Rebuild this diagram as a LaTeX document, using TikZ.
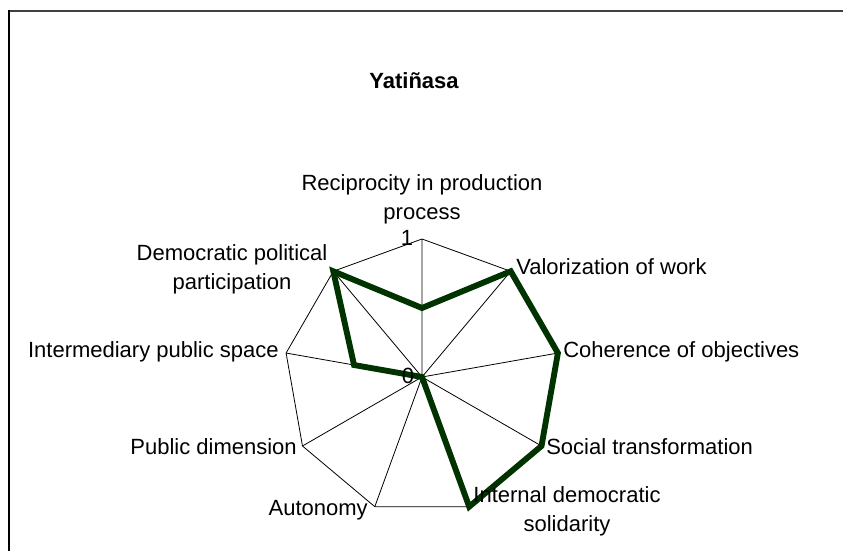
\documentclass[tikz,border=0pt]{standalone}
\usepackage{fontspec}
\setmainfont{Liberation Sans}
\usepackage{tikz}
\definecolor{verde}{RGB}{0,51,0}
\tikzset{
  red/.style={draw=black,line width=0.6pt},
  etiq/.style={inner sep=0pt,align=center,font=\fontsize{16.5}{22}\selectfont},
  serie/.style={draw=verde,line width=4.4pt,line join=miter}
}

\begin{document}
\begin{tikzpicture}[x=0.75pt,y=0.75pt]
\useasboundingbox (0,0) rectangle (843,551);
\draw[black!75,line width=1.5pt] (843,540) -- (9,540);
\draw[black,line width=1.2pt] (9,540.75) -- (9,0);
\path (414,470) node(t)[etiq,font=\bfseries\fontsize{16.5}{22}\selectfont]{Yatiñasa};
\begin{scope}[shift={(422,174)}]
%\usetikzlibrary{positioning}
\path (0,0) coordinate(o)
(90:138) coordinate(v1) (50:138) coordinate(v2) (10:138) coordinate(v3)
(-30:138) coordinate(v4) (-70:138) coordinate(v5) (-110:138) coordinate(v6)
(-150:138) coordinate(v7) (170:138) coordinate(v8) (130:138) coordinate(v9)
(90:69) coordinate(d1) (170:69) coordinate(d8);
\draw[red](v1)--(v2)--(v3)--(v4)--(v5)--(v6)--(v7)--(v8)--(v9)--cycle;
\draw[red](o)--(v1) (o)--(v2) (o)--(v3) (o)--(v4) (o)--(v5) (o)--(v6) (o)--(v7) (o)--(v8) (o)--(v9);
\draw[serie](d1)--(v2)--(v3)--(v4)--(v5)--(o)--(d8)--(v9)--cycle;
\path (0,178) node(a)[etiq]{Reciprocity in production\\ process}
(-15,139) node(u)[etiq]{1}
(-14,1) node(z)[etiq]{0}
(94,110) node(b)[etiq,anchor=west]{Valorization of work}
(141,25) node(c)[etiq,anchor=west]{Coherence of objectives}
(124,-70) node(d)[etiq,anchor=west]{Social transformation}
(145,-134) node(e)[etiq]{Internal democratic\\ solidarity}
(-54,-133) node(f)[etiq,anchor=east]{Autonomy}
(-125,-70) node(g)[etiq,anchor=east]{Public dimension}
(-143,25) node(h)[etiq,anchor=east]{Intermediary public space}
(-190,108) node(i)[etiq]{Democratic political\\ participation};
\end{scope}
\end{tikzpicture}
\end{document}
